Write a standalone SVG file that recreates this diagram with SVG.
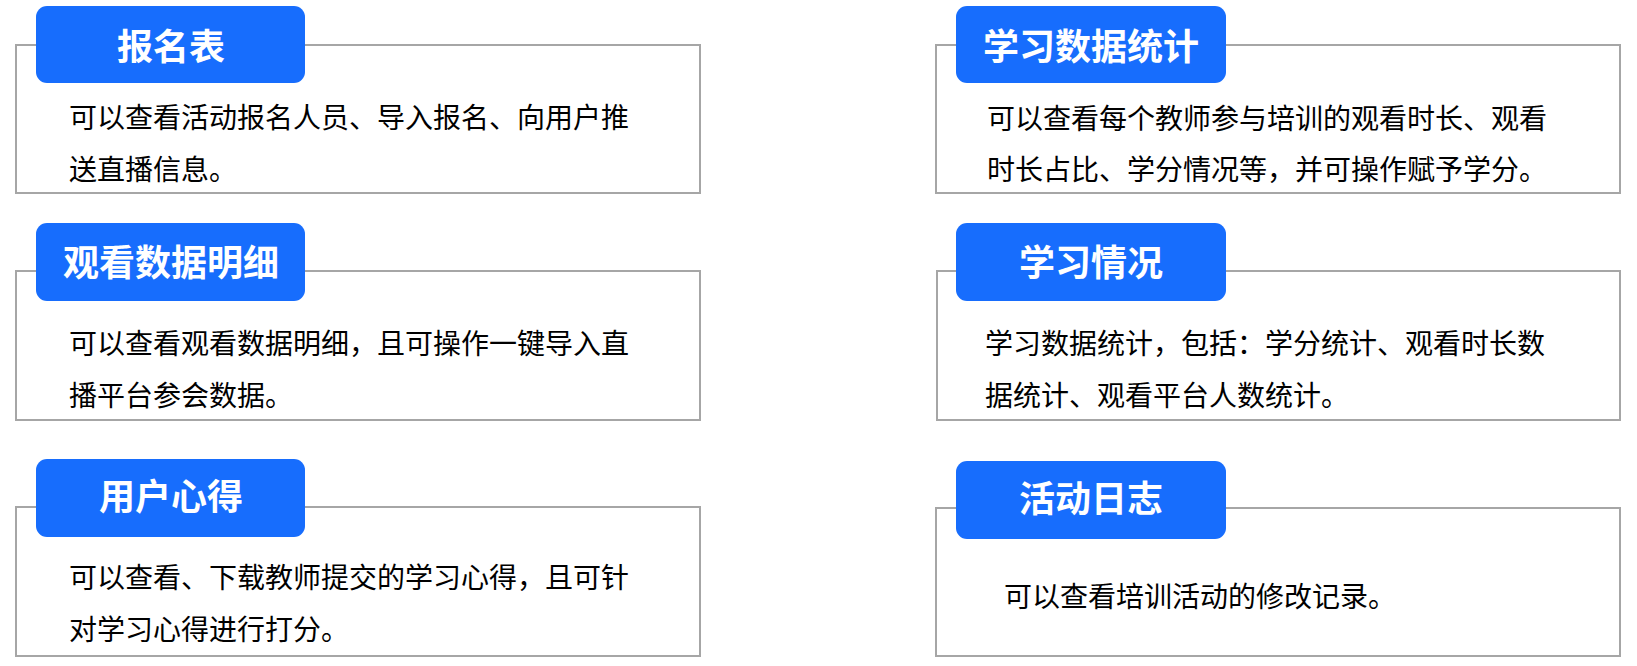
<svg xmlns="http://www.w3.org/2000/svg" width="1637" height="666" viewBox="0 0 1637 666">
<style>
.box{fill:#fff;stroke:#a6a6a6;stroke-width:2}
.tab{fill:#176dfd}
.title{font-family:"Noto Sans CJK SC","Noto Sans",sans-serif;font-size:36px;font-weight:bold;fill:#fff;text-anchor:middle}
.body{font-family:"Noto Sans CJK SC","Noto Sans",sans-serif;font-size:28px;fill:#000}
</style>
<rect width="1637" height="666" fill="#fff"/>
<g id="node-baomingbiao">
<rect class="box" x="16" y="45" width="684" height="148"/>
<rect class="tab" x="36" y="6" width="269" height="77" rx="11"/>
<text class="title" x="171" y="60">报名表</text>
<text class="body" x="69" y="128">可以查看活动报名人员、导入报名、向用户推</text>
<text class="body" x="69" y="180">送直播信息。</text>
</g>
<g id="node-guankan">
<rect class="box" x="16" y="271" width="684" height="149"/>
<rect class="tab" x="36" y="223" width="269" height="78" rx="11"/>
<text class="title" x="171" y="276">观看数据明细</text>
<text class="body" x="69" y="354">可以查看观看数据明细，且可操作一键导入直</text>
<text class="body" x="69" y="406">播平台参会数据。</text>
</g>
<g id="node-xinde">
<rect class="box" x="16" y="507" width="684" height="149"/>
<rect class="tab" x="36" y="459" width="269" height="78" rx="11"/>
<text class="title" x="171" y="510">用户心得</text>
<text class="body" x="69" y="588">可以查看、下载教师提交的学习心得，且可针</text>
<text class="body" x="69" y="640">对学习心得进行打分。</text>
</g>
<g id="node-tongji">
<rect class="box" x="936" y="45" width="684" height="148"/>
<rect class="tab" x="956" y="6" width="270" height="77" rx="11"/>
<text class="title" x="1091" y="60">学习数据统计</text>
<text class="body" x="987" y="129">可以查看每个教师参与培训的观看时长、观看</text>
<text class="body" x="987" y="180">时长占比、学分情况等，并可操作赋予学分。</text>
</g>
<g id="node-qingkuang">
<rect class="box" x="937" y="271" width="683" height="149"/>
<rect class="tab" x="956" y="223" width="270" height="78" rx="11"/>
<text class="title" x="1091" y="276">学习情况</text>
<text class="body" x="985" y="354">学习数据统计，包括：学分统计、观看时长数</text>
<text class="body" x="985" y="406">据统计、观看平台人数统计。</text>
</g>
<g id="node-rizhi">
<rect class="box" x="936" y="508" width="684" height="148"/>
<rect class="tab" x="956" y="461" width="270" height="78" rx="11"/>
<text class="title" x="1091" y="512">活动日志</text>
<text class="body" x="1004" y="607">可以查看培训活动的修改记录。</text>
</g>
<g id="connectors"></g>
</svg>
